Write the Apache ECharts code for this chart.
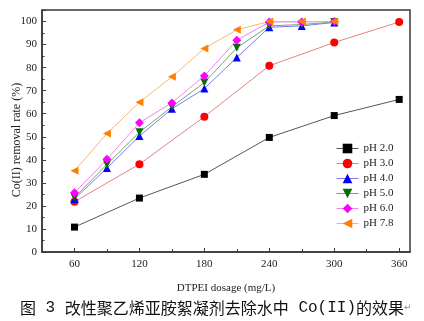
<!DOCTYPE html>
<html>
<head>
<meta charset="utf-8">
<script src="https://cdn.jsdelivr.net/npm/echarts@6/dist/echarts.min.js"></script>
<style>
  html, body { margin: 0; padding: 0; background: #fff; }
  #chart { width: 424px; height: 321px; }
</style>
</head>
<body>
<div id="chart"></div>
<script>
// dosage steps (mg/L)
var dosageFine = [60, 90, 120, 150, 180, 210, 240, 270, 300]
var dosageCoarse = [60, 120, 180, 240, 300, 360]

// Co(II) removal rate (%)
var ph20 = [10.8, 23.4, 33.7, 49.7, 59.2, 66.2]
var ph30 = [21.8, 38.1, 58.7, 80.8, 90.9, 99.8]
var ph40 = [23.0, 36.4, 50.3, 62.1, 70.9, 84.4, 97.5, 98.1, 99.6]
var ph50 = [23.7, 38.0, 52.0, 63.0, 73.5, 88.6, 98.1, 98.7, 99.8]
var ph60 = [25.7, 40.2, 56.1, 64.7, 76.4, 91.9, 99.8, 99.8, 100]
var ph78 = [35.2, 51.4, 65.0, 76.0, 88.3, 96.4, 100, 100, 100]

var xTicks = [60, 120, 180, 240, 300, 360]
var xMinorTicks = [90, 150, 210, 270, 330]

function pairs (xs, ys) {
  var out = []
  for (var i = 0; i < ys.length; i++) out.push([xs[i], ys[i]])
  return out
}

var serif = 'Liberation Serif'
var axisColor = '#3a3a3a'
var legendItems = []

function makeSeries (name, xs, ys, symbol, rotate, size, color, lineColor) {
  legendItems.push({ name: name, lineStyle: { color: lineColor, width: 1 } })
  return {
    name: name,
    type: 'line',
    data: pairs(xs, ys),
    symbol: symbol,
    symbolRotate: rotate,
    symbolSize: size,
    itemStyle: { color: color },
    lineStyle: { color: lineColor, width: 1 },
    emphasis: { disabled: true }
  }
}

var series = [
  makeSeries('pH 2.0', dosageCoarse, ph20, 'rect', 0, 7, '#000000', '#555555'),
  makeSeries('pH 3.0', dosageCoarse, ph30, 'circle', 0, 8, '#ff0000', '#e58080'),
  makeSeries('pH 4.0', dosageFine, ph40, 'triangle', 0, 8, '#0000ff', '#7c7cee'),
  makeSeries('pH 5.0', dosageFine, ph50, 'triangle', 180, 8, '#006e00', '#6aac6a'),
  makeSeries('pH 6.0', dosageFine, ph60, 'diamond', 0, 9, '#ff00ff', '#f082f0'),
  makeSeries('pH 7.8', dosageFine, ph78, 'triangle', 90, 8, '#ff8000', '#f4b872')
]

var chart = echarts.init(document.getElementById('chart'))
var option = {
  animation: false,
  grid: {
    left: 42, right: 14, top: 10, bottom: 69,
    show: true, borderColor: axisColor, borderWidth: 1.5
  },
  legend: {
    orient: 'vertical',
    left: 331,
    top: 138,
    itemWidth: 22,
    itemHeight: 12,
    itemGap: 4,
    textStyle: { fontFamily: serif, fontSize: 11, color: '#222' },
    data: legendItems
  },
  xAxis: [{
    type: 'value',
    min: 30,
    max: 370,
    name: 'DTPEI dosage (mg/L)',
    nameLocation: 'middle',
    nameGap: 31,
    nameTextStyle: { fontFamily: serif, fontSize: 11, color: '#222' },
    axisLine: { lineStyle: { color: axisColor, width: 1.5 } },
    axisTick: { inside: true, length: 4, customValues: xTicks, lineStyle: { color: axisColor } },
    axisLabel: { customValues: xTicks, margin: 7, fontFamily: serif, fontSize: 11, color: '#222' },
    splitLine: { show: false }
  }, {
    // minor ticks only
    type: 'value',
    min: 30,
    max: 370,
    position: 'bottom',
    axisLine: { show: false },
    axisTick: { inside: true, length: 3, customValues: xMinorTicks, lineStyle: { color: axisColor } },
    axisLabel: { show: false },
    splitLine: { show: false }
  }],
  yAxis: {
    type: 'value',
    min: 0,
    max: 105,
    interval: 10,
    axisLine: { show: true, lineStyle: { color: axisColor, width: 1.5 } },
    axisTick: { show: true, inside: true, length: 4, lineStyle: { color: axisColor } },
    minorTick: { show: true, splitNumber: 2, length: 2.5, lineStyle: { color: axisColor } },
    axisLabel: { margin: 5, fontFamily: serif, fontSize: 11, color: '#222', showMaxLabel: false },
    splitLine: { show: false }
  },
  graphic: [{
    type: 'text',
    x: 17,
    y: 140,
    rotation: Math.PI / 2,
    style: {
      text: 'Co(II) removal rate (%)',
      font: '12px "Liberation Serif"',
      fill: '#222',
      align: 'center',
      verticalAlign: 'middle'
    }
  }, {
    type: 'text',
    left: 20,
    top: 300,
    style: {
      text: '{c|图}{m| 3 }{c|改性聚乙烯亚胺絮凝剂去除水中}{m| Co(II)}{c|的效果}{r|↵}',
      rich: {
        c: { fontFamily: 'Noto Sans CJK SC', fontSize: 16, fill: '#111' },
        m: { fontFamily: 'Liberation Mono', fontSize: 16, fill: '#111' },
        r: { fontFamily: 'DejaVu Sans', fontSize: 9, fill: '#888' }
      }
    }
  }],
  series: series
}
chart.setOption(option)
</script>
</body>
</html>
